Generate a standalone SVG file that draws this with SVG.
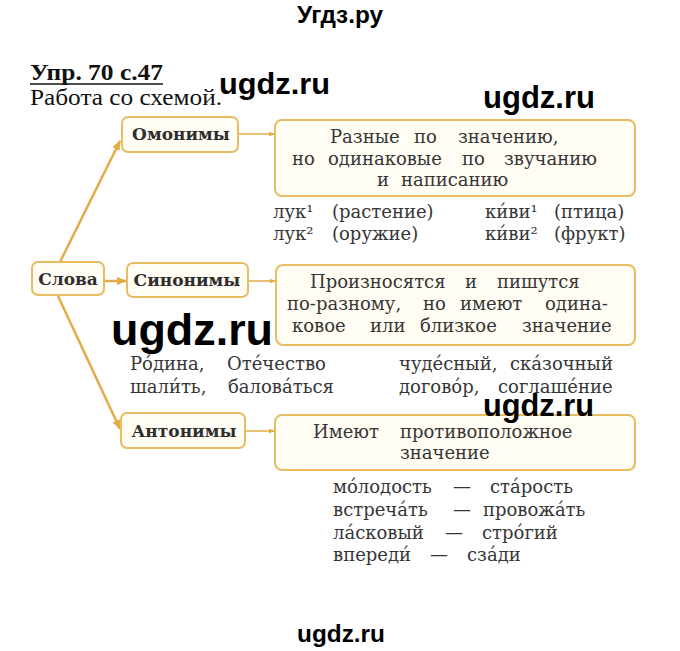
<svg xmlns="http://www.w3.org/2000/svg" width="680" height="651" viewBox="0 0 680 651">
<defs>
<marker id="ah" viewBox="0 0 10 10" refX="9" refY="5" markerWidth="10" markerHeight="10" markerUnits="userSpaceOnUse" orient="auto"><path d="M0,1 L10,5 L0,9 z" fill="#e2ac45"/></marker>
<marker id="as" viewBox="0 0 10 10" refX="9" refY="5" markerWidth="7" markerHeight="7" markerUnits="userSpaceOnUse" orient="auto"><path d="M0,1.5 L10,5 L0,8.5 z" fill="#e2ac45"/></marker>
</defs>
<style>
.box{fill:#fffdf4;stroke:#e8bd62;stroke-width:2}
.lbl{font-family:"DejaVu Serif","Liberation Serif",serif;font-weight:bold;font-size:17px;fill:#2e2e2e;text-anchor:middle}
.t{font-family:"DejaVu Serif","Liberation Serif",serif;font-size:18px;fill:#363636}
.wm{font-family:"Liberation Sans",Arial,sans-serif;font-weight:bold;fill:#000}
.thick{stroke:#e2ac45;stroke-width:2.5;fill:none}
.thin{stroke:#e2ac45;stroke-width:1.5;fill:none}
</style>
<rect width="680" height="651" fill="#fff"/>

<g id="header">
<text class="wm" x="340" y="23" font-size="23" text-anchor="middle" textLength="86" lengthAdjust="spacingAndGlyphs">Угдз.ру</text>
<text x="30" y="80" font-family="'Liberation Serif',serif" font-weight="bold" font-size="23" fill="#111" textLength="133" lengthAdjust="spacingAndGlyphs">Упр. 70 с.47</text>
<line x1="30" y1="84" x2="163" y2="84" stroke="#111" stroke-width="1.5"/>
<text x="30" y="105" font-family="'Liberation Serif',serif" font-size="23" fill="#111" textLength="192" lengthAdjust="spacingAndGlyphs">Работа со схемой.</text>
</g>

<g id="connectors">
<line class="thick" x1="60" y1="262" x2="120" y2="141" marker-end="url(#ah)"/>
<line class="thick" x1="105" y1="281" x2="126" y2="281" marker-end="url(#ah)"/>
<line class="thick" x1="58" y1="296" x2="120" y2="429" marker-end="url(#ah)"/>
<line class="thin" x1="239" y1="134" x2="275" y2="134" marker-end="url(#as)"/>
<line class="thin" x1="249" y1="281" x2="276" y2="281" marker-end="url(#as)"/>
<line class="thin" x1="246" y1="431" x2="275" y2="431" marker-end="url(#as)"/>
</g>

<g id="slova">
<rect class="box" x="32" y="262" width="72" height="33" rx="6"/>
<text class="lbl" x="68" y="285">Слова</text>
</g>

<g id="omonimy">
<rect class="box" x="122" y="117" width="116" height="35" rx="6"/>
<text class="lbl" x="181" y="140">Омонимы</text>
</g>

<g id="sinonimy">
<rect class="box" x="127" y="263" width="121" height="34" rx="6"/>
<text class="lbl" x="187" y="286">Синонимы</text>
</g>

<g id="antonimy">
<rect class="box" x="121" y="413" width="124" height="35" rx="6"/>
<text class="lbl" x="184" y="437">Антонимы</text>
</g>

<g id="def-omonimy">
<rect class="box" x="275" y="120" width="360" height="76" rx="7"/>
<text class="t" y="143"><tspan x="330">Разные</tspan><tspan x="414">по</tspan><tspan x="458">значению,</tspan></text>
<text class="t" y="165"><tspan x="292">но</tspan><tspan x="328">одинаковые</tspan><tspan x="462">по</tspan><tspan x="504">звучанию</tspan></text>
<text class="t" y="186"><tspan x="377">и</tspan><tspan x="401">написанию</tspan></text>
</g>

<g id="ex-omonimy">
<text class="t" y="218"><tspan x="273">лук¹</tspan><tspan x="332">(растение)</tspan></text>
<text class="t" y="240"><tspan x="273">лук²</tspan><tspan x="332">(оружие)</tspan></text>
<text class="t" y="218"><tspan x="485">ки́ви¹</tspan><tspan x="554">(птица)</tspan></text>
<text class="t" y="240"><tspan x="485">ки́ви²</tspan><tspan x="554">(фрукт)</tspan></text>
</g>

<g id="def-sinonimy">
<rect class="box" x="276" y="265" width="359" height="80" rx="7"/>
<text class="t" y="288"><tspan x="310">Произносятся</tspan><tspan x="465">и</tspan><tspan x="497">пишутся</tspan></text>
<text class="t" y="310"><tspan x="287">по-разному,</tspan><tspan x="423">но</tspan><tspan x="460">имеют</tspan><tspan x="545">одина-</tspan></text>
<text class="t" y="332"><tspan x="292">ковое</tspan><tspan x="370">или</tspan><tspan x="420">близкое</tspan><tspan x="522">значение</tspan></text>
</g>

<g id="ex-sinonimy">
<text class="t" y="370"><tspan x="130">Ро́дина,</tspan><tspan x="227">Оте́чество</tspan></text>
<text class="t" y="393"><tspan x="130">шали́ть,</tspan><tspan x="228">балова́ться</tspan></text>
<text class="t" y="370"><tspan x="399">чуде́сный,</tspan><tspan x="510">ска́зочный</tspan></text>
<text class="t" y="393"><tspan x="399">догово́р,</tspan><tspan x="498">соглаше́ние</tspan></text>
</g>

<g id="def-antonimy">
<rect class="box" x="275" y="415" width="360" height="55" rx="7"/>
<text class="t" y="438"><tspan x="313">Имеют</tspan><tspan x="400">противоположное</tspan></text>
<text class="t" y="459"><tspan x="400">значение</tspan></text>
</g>

<g id="ex-antonimy">
<text class="t" y="493"><tspan x="333">мо́лодость</tspan><tspan x="453">—</tspan><tspan x="490">ста́рость</tspan></text>
<text class="t" y="516"><tspan x="333">встреча́ть</tspan><tspan x="453">—</tspan><tspan x="483">провожа́ть</tspan></text>
<text class="t" y="539"><tspan x="333">ла́сковый</tspan><tspan x="445">—</tspan><tspan x="482">стро́гий</tspan></text>
<text class="t" y="561"><tspan x="333">впереди́</tspan><tspan x="430">—</tspan><tspan x="467">сза́ди</tspan></text>
</g>

<g id="watermarks">
<text class="wm" x="219" y="94" font-size="30" textLength="111" lengthAdjust="spacingAndGlyphs">ugdz.ru</text>
<text class="wm" x="483" y="108" font-size="31" textLength="112" lengthAdjust="spacingAndGlyphs">ugdz.ru</text>
<text class="wm" x="111" y="345" font-size="45" textLength="162" lengthAdjust="spacingAndGlyphs">ugdz.ru</text>
<text class="wm" x="483" y="416" font-size="31" textLength="111" lengthAdjust="spacingAndGlyphs">ugdz.ru</text>
<text class="wm" x="297" y="642" font-size="24" textLength="88" lengthAdjust="spacingAndGlyphs">ugdz.ru</text>
</g>
</svg>
